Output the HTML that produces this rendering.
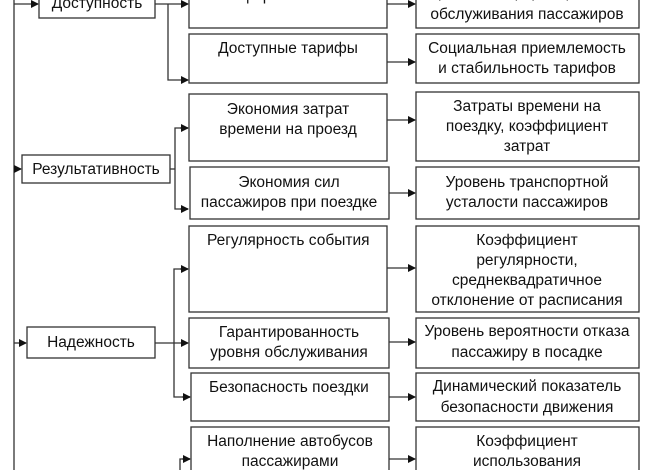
<!DOCTYPE html>
<html><head><meta charset="utf-8"><style>
html,body{margin:0;padding:0;background:#fff;}
svg{display:block;}
text{font-family:"Liberation Sans",sans-serif;font-size:15.5px;fill:#111;text-anchor:middle;}
</style></head><body>
<svg width="647" height="470" viewBox="0 0 647 470" xmlns="http://www.w3.org/2000/svg">
<defs><marker id="a" markerWidth="8" markerHeight="8" refX="7" refY="4" orient="auto" markerUnits="userSpaceOnUse"><path d="M0,0 L8,4 L0,8 z" fill="#111"/></marker></defs>
<g fill="none" stroke="#333" stroke-width="1.3">
<line x1="14" y1="0" x2="14" y2="470"/>
<line x1="14" y1="4" x2="38" y2="4" marker-end="url(#a)"/>
<line x1="14" y1="169" x2="21" y2="169" marker-end="url(#a)"/>
<line x1="14" y1="343" x2="26" y2="343" marker-end="url(#a)"/>
<rect x="39" y="-10" width="116" height="28"/>
<rect x="22" y="155" width="148" height="28"/>
<rect x="27" y="327" width="128" height="31"/>
<line x1="155" y1="4" x2="188" y2="4" marker-end="url(#a)"/>
<polyline points="168,4 168,80 188,80" marker-end="url(#a)"/>
<line x1="170" y1="169" x2="175" y2="169"/>
<polyline points="188,128 175,128 175,209 188,209"/>
<line x1="180" y1="128" x2="188" y2="128" marker-end="url(#a)"/>
<line x1="180" y1="209" x2="188" y2="209" marker-end="url(#a)"/>
<line x1="155" y1="343" x2="188" y2="343" marker-end="url(#a)"/>
<polyline points="188,269 174,269 174,397 190,397"/>
<line x1="180" y1="269" x2="188" y2="269" marker-end="url(#a)"/>
<line x1="182" y1="397" x2="190" y2="397" marker-end="url(#a)"/>
<polyline points="180,470 180,459 190,459"/>
<line x1="182" y1="459" x2="190" y2="459" marker-end="url(#a)"/>
<rect x="189" y="-10" width="198" height="38"/>
<rect x="189" y="34" width="198" height="49"/>
<rect x="189" y="94" width="198" height="67"/>
<rect x="190" y="167" width="199" height="52"/>
<rect x="189" y="226" width="198" height="86"/>
<rect x="189" y="318" width="200" height="50"/>
<rect x="191" y="373" width="198" height="48"/>
<rect x="191" y="427" width="198" height="60"/>
<rect x="416" y="-10" width="223" height="38"/>
<rect x="416" y="34" width="223" height="49"/>
<rect x="416" y="92" width="223" height="69"/>
<rect x="416" y="167" width="223" height="52"/>
<rect x="416" y="226" width="223" height="86"/>
<rect x="416" y="318" width="223" height="50"/>
<rect x="416" y="373" width="223" height="48"/>
<rect x="416" y="427" width="223" height="60"/>
<line x1="387" y1="4" x2="415" y2="4" marker-end="url(#a)"/>
<line x1="387" y1="62" x2="415" y2="62" marker-end="url(#a)"/>
<line x1="387" y1="120" x2="415" y2="120" marker-end="url(#a)"/>
<line x1="389" y1="193" x2="415" y2="193" marker-end="url(#a)"/>
<line x1="387" y1="268" x2="415" y2="268" marker-end="url(#a)"/>
<line x1="389" y1="342" x2="415" y2="342" marker-end="url(#a)"/>
<line x1="389" y1="397" x2="415" y2="397" marker-end="url(#a)"/>
<line x1="389" y1="459" x2="415" y2="459" marker-end="url(#a)"/>
</g>
<text x="97" y="8">Доступность</text>
<text x="96" y="174">Результативность</text>
<text x="91" y="347">Надежность</text>
<text x="288" y="0">Информативность</text>
<text x="288" y="53">Доступные тарифы</text>
<text x="288" y="114">Экономия затрат</text>
<text x="288" y="134">времени на проезд</text>
<text x="289" y="187">Экономия сил</text>
<text x="289" y="207">пассажиров при поездке</text>
<text x="207" y="245" style="text-anchor:start">Регулярность события</text>
<text x="289" y="337">Гарантированность</text>
<text x="289" y="357">уровня обслуживания</text>
<text x="209" y="392" style="text-anchor:start">Безопасность поездки</text>
<text x="290" y="446">Наполнение автобусов</text>
<text x="290" y="466">пассажирами</text>
<text x="527" y="-3">Уровень информационного</text>
<text x="527" y="19">обслуживания пассажиров</text>
<text x="527" y="53">Социальная приемлемость</text>
<text x="527" y="73">и стабильность тарифов</text>
<text x="527" y="111">Затраты времени на</text>
<text x="527" y="131">поездку, коэффициент</text>
<text x="527" y="151">затрат</text>
<text x="527" y="187">Уровень транспортной</text>
<text x="527" y="207">усталости пассажиров</text>
<text x="527" y="245">Коэффициент</text>
<text x="527" y="265">регулярности,</text>
<text x="527" y="285">среднеквадратичное</text>
<text x="527" y="305">отклонение от расписания</text>
<text x="527" y="336">Уровень вероятности отказа</text>
<text x="527" y="357">пассажиру в посадке</text>
<text x="527" y="391">Динамический показатель</text>
<text x="527" y="412">безопасности движения</text>
<text x="527" y="446">Коэффициент</text>
<text x="527" y="466">использования</text>
</svg>
</body></html>
